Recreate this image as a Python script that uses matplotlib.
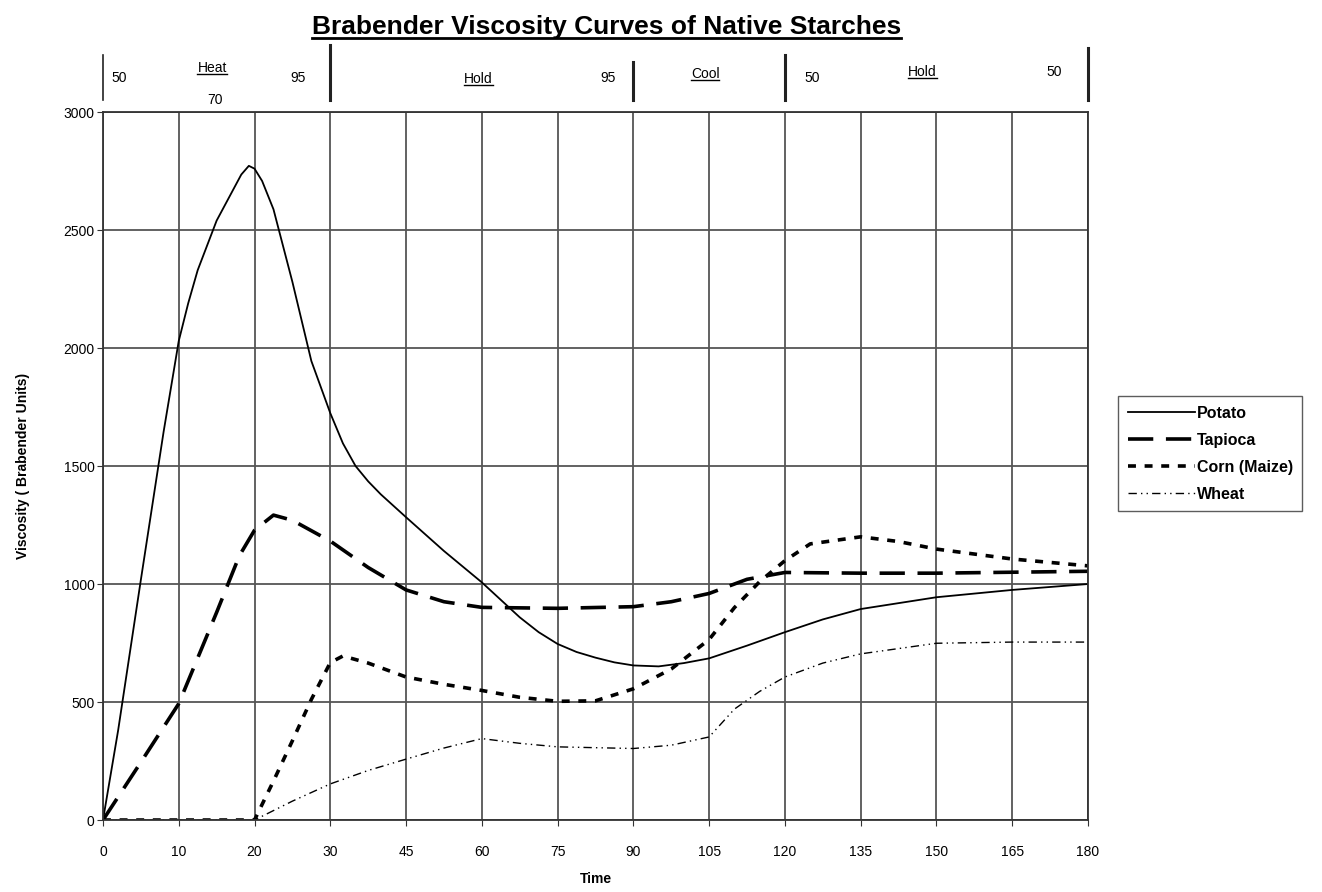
#brabender viscosity curves of native starches
#time axis is the chart's own uneven scale: 0,10,20,30 then every 15 min, equally spaced

import matplotlib
matplotlib.use('Agg')
import matplotlib.pyplot as plt
from matplotlib.lines import Line2D
import numpy as np

plt.rcParams['font.family'] = ['Liberation Sans', 'DejaVu Sans']

tick_times = [0, 10, 20, 30, 45, 60, 75, 90, 105, 120, 135, 150, 165, 180]
visc_ticks = [0, 500, 1000, 1500, 2000, 2500, 3000]

potato_t = [0, 2, 5, 8, 10, 11.25, 12.5, 15, 17.5, 18.25, 19.25, 20, 21, 22.5, 25, 27.5, 30,
            32.5, 35, 37.5, 40, 45, 52.5, 60, 67.5, 71.25, 75, 78.75, 82.5, 86.25, 90, 95,
            100, 105, 112.5, 120, 127.5, 135, 150, 165, 180]
potato_v = [0, 380, 1018, 1645, 2030, 2190, 2330, 2540, 2690, 2735, 2772, 2760, 2708, 2588,
            2280, 1945, 1724, 1596, 1500, 1435, 1380, 1283, 1140, 1007, 859, 796, 746, 712,
            688, 668, 655, 651, 665, 685, 739, 796, 850, 894, 944, 975, 1000]

tapioca_t = [0, 5, 10, 15, 18, 20, 22.5, 25, 30, 37.5, 45, 52.5, 60, 75, 90, 97.5, 105,
             112.5, 120, 135, 150, 165, 180]
tapioca_v = [0, 245, 493, 880, 1120, 1228, 1292, 1270, 1182, 1070, 975, 925, 901, 897, 904,
             925, 960, 1020, 1049, 1046, 1046, 1050, 1054]

corn_t = [0, 20, 22.5, 25, 27.5, 30, 32.5, 37.5, 45, 52.5, 60, 67.5, 75, 82.5, 90, 97.5,
          105, 110, 115, 120, 125, 135, 142.5, 150, 165, 180]
corn_v = [0, 0, 165, 336, 511, 667, 695, 665, 606, 575, 549, 520, 503, 505, 556, 640, 765,
          900, 1010, 1099, 1170, 1200, 1180, 1148, 1106, 1077]

wheat_t = [0, 20, 25, 30, 37.5, 45, 52.5, 60, 67.5, 75, 90, 97.5, 105, 110, 115, 120,
           127.5, 135, 150, 165, 180]
wheat_v = [0, 0, 80, 153, 210, 258, 305, 345, 325, 310, 303, 317, 352, 470, 545, 606, 665,
           704, 749, 754, 754]

#temperature program band above the plot
band_labels = ['50', 'Heat', '70', '95', 'Hold', '95', 'Cool', '50', 'Hold', '50']
band_times = [2.2, 14.4, 14.8, 25.7, 59.3, 84.9, 104.2, 125.4, 147.2, 173.4]
band_heights = [1.048, 1.062, 1.017, 1.048, 1.046, 1.048, 1.054, 1.048, 1.056, 1.056]
band_underline = [False, True, False, False, True, False, True, False, True, False]
divider_times = [0, 30, 90, 120, 180]
divider_tops = [1.0805, 1.094, 1.07, 1.08, 1.09]
divider_widths = [1.2, 2.2, 2.2, 2.2, 2.2]

idx = np.arange(len(tick_times))
def fwd(t):
    return np.interp(t, tick_times, idx)
def inv(p):
    return np.interp(p, idx, tick_times)

fig = plt.figure(figsize=(13.22, 8.92), dpi=100)
ax = fig.add_axes([0.0779, 0.0807, 0.7451, 0.7937])
ax.set_xscale('function', functions=(fwd, inv))

ax.plot(potato_t, potato_v, color='black', linewidth=1.3, label='Potato')
ax.plot(tapioca_t, tapioca_v, color='black', linewidth=2.6, dashes=(7, 3.5), label='Tapioca')
ax.plot(corn_t, corn_v, color='black', linewidth=2.6, dashes=(2.2, 2.4), label='Corn (Maize)')
ax.plot(wheat_t, wheat_v, color='black', linewidth=1.0, dashes=(6, 3, 1, 3, 1, 3), label='Wheat')

ax.set_xlim(0, 180)
ax.set_ylim(0, 3000)
ax.set_xticks(tick_times)
ax.set_xticklabels([str(t) for t in tick_times])
ax.set_yticks(visc_ticks)
ax.grid(True, color='#555555', linewidth=1.3)
ax.set_axisbelow(True)
ax.tick_params(labelsize=10, direction='out', length=4, color='#333333')
ax.tick_params(axis='x', pad=14)
ax.tick_params(axis='y', pad=2)
for s in ax.spines.values():
    s.set_color('#333333')
    s.set_linewidth(1.3)

ax.set_xlabel('Time', fontsize=10, fontweight='bold', labelpad=9)
ax.set_ylabel('Viscosity ( Brabender Units)', fontsize=10, fontweight='bold', labelpad=24)

tr = ax.get_xaxis_transform()
for t, top, w in zip(divider_times, divider_tops, divider_widths):
    ax.plot([t, t], [1.017, top], color='#222222', linewidth=w, transform=tr, clip_on=False)

band_texts = []
for lab, t, h in zip(band_labels, band_times, band_heights):
    band_texts.append(ax.text(t, h, lab, transform=tr, fontsize=10, ha='center', va='center'))

title = fig.text(0.459, 0.970, 'Brabender Viscosity Curves of Native Starches',
                 fontsize=19, fontweight='bold', ha='center', va='center',
                 family=['Liberation Sans Narrow', 'Liberation Sans', 'DejaVu Sans'])

leg = fig.legend(loc='upper left', bbox_to_anchor=(0.846, 0.556),
                 prop={'size': 11.5, 'weight': 'bold'},
                 handlelength=4.2, handletextpad=0.1, frameon=True, fancybox=False,
                 edgecolor='#333333', borderpad=0.6, labelspacing=0.75, borderaxespad=0)
leg.get_frame().set_linewidth(1.0)

#underline the title and the stage names
fig.canvas.draw()
r = fig.canvas.get_renderer()
to_underline = [(title, 2.0)] + [(tx, 1.0) for tx, u in zip(band_texts, band_underline) if u]
for tx, lw in to_underline:
    bb = tx.get_window_extent(r)
    fig.add_artist(Line2D([bb.x0, bb.x1], [bb.y0 + 1, bb.y0 + 1], color='black',
                          linewidth=lw, transform=None))

fig.savefig('out.png', dpi=100)
